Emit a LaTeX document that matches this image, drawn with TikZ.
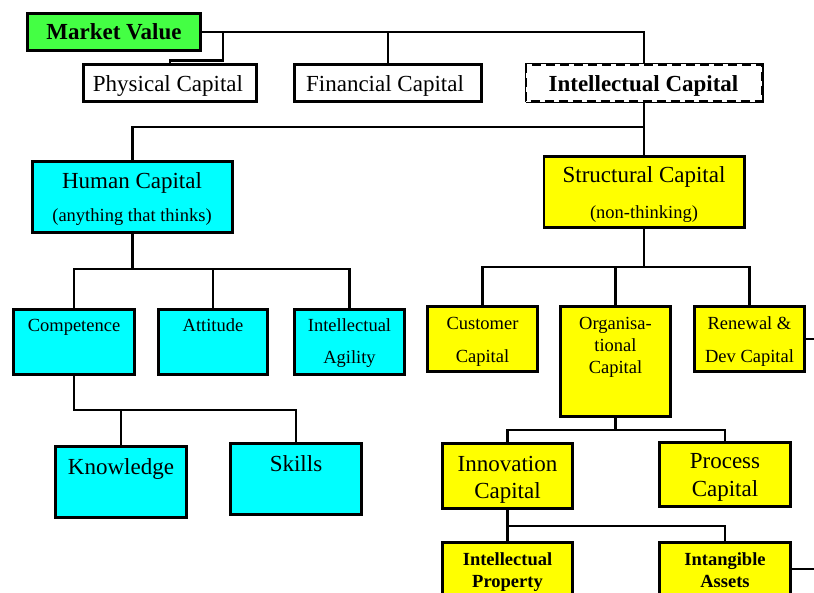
\documentclass[tikz,border=0pt]{standalone}
\usepackage{fontspec}
\setmainfont{Liberation Serif}
\newcommand\fsBig{\fontsize{23}{27}\selectfont}
\newcommand\fsSmall{\fontsize{18.5}{22}\selectfont}
\definecolor{mvgreen}{RGB}{68,255,68}
\definecolor{hccyan}{RGB}{0,255,255}
\definecolor{scyellow}{RGB}{255,255,0}
\tikzset{
  box/.style={draw=black, line width=2.8pt, rectangle, inner sep=0pt, outer sep=0pt},
  dbox/.style={box, dash pattern=on 9pt off 5pt},
  lbl/.style={anchor=base, inner sep=0pt, outer sep=0pt, text=black},
  link/.style={line width=2.6pt, line join=miter},
}
% box helper: centre, outer width, outer height
\newcommand\capbox[6]{\node[#1, fill=#2, minimum width=#4pt-2.8pt, minimum height=#5pt-2.8pt] (#3) at (#6) {};}
\begin{document}
\begin{tikzpicture}[x=1pt, y=-1pt]
\clip (0,0) rectangle (814,593);
\fill[white] (0,0) rectangle (814,593);

% ---- connectors (drawn first, boxes sit on top) ----
\coordinate (mvtap) at (223,32);
\coordinate (mvbend) at (223,60.5);
\coordinate (icbus) at (0,127);
\coordinate (hbus) at (0,269);
\coordinate (cbus) at (0,410);
\coordinate (sbus) at (0,267);
\coordinate (obus) at (0,430);
\coordinate (ibus) at (0,526);
\coordinate (edge) at (830,0);

% ---- boxes ----
\capbox{box}{mvgreen}{mv}{176}{40}{114,32}
\capbox{box}{white}{pc}{176}{40}{170,83}
\capbox{box}{white}{fc}{190}{40}{388,83}
\capbox{dbox}{white}{ic}{239}{40}{644,83}
\capbox{box}{hccyan}{hc}{203}{74}{132.5,197}
\capbox{box}{scyellow}{sc}{203}{74}{644,192}
\capbox{box}{hccyan}{comp}{124}{68}{74,342}
\capbox{box}{hccyan}{att}{112}{68}{213,342}
\capbox{box}{hccyan}{iag}{113}{68}{349.5,342}
\capbox{box}{hccyan}{know}{134}{74}{121,482}
\capbox{box}{hccyan}{skl}{134}{74}{296,479}
\capbox{box}{scyellow}{cust}{113}{68}{482.5,339}
\capbox{box}{scyellow}{org}{113}{113}{615.5,361.5}
\capbox{box}{scyellow}{ren}{113}{68}{749.5,339}
\capbox{box}{scyellow}{inn}{133}{68}{507.5,476}
\capbox{box}{scyellow}{proc}{134}{67}{725,474.5}
\capbox{box}{scyellow}{ip}{133}{56}{507.5,569}
\capbox{box}{scyellow}{intg}{134}{56}{725,569}

% Market value to its three parts
\draw[link] (mv.east) -| (ic.north);
\draw[link] (fc.north) -- (fc.north |- mv.east);
\draw[link] (mvtap) -- (mvbend) -| (pc.north);
% Intellectual capital split
\draw[link] (ic.south) -- (sc.north);
\draw[link] (ic.south |- icbus) -| (hc.north);
% Human capital
\draw[link] (hc.south) -- (hc.south |- hbus);
\draw[link] (comp.north) |- (iag.north |- hbus) -- (iag.north);
\draw[link] (att.north) -- (att.north |- hbus);
% Competence
\draw[link] (comp.south) |- (skl.north |- cbus) -- (skl.north);
\draw[link] (know.north) -- (know.north |- cbus);
% Structural capital
\draw[link] (sc.south) -- (sc.south |- sbus);
\draw[link] (cust.north) |- (ren.north |- sbus) -- (ren.north);
\draw[link] (org.north) -- (org.north |- sbus);
\draw[link] (ren.east) -- (ren.east -| edge);
% Organisational capital
\draw[link] (org.south) -- (org.south |- obus);
\draw[link] (inn.north) |- (proc.north |- obus) -- (proc.north);
% Innovation capital
\draw[link] (inn.south) |- (intg.north |- ibus) -- (intg.north);
\draw[link] (ip.north) -- (ip.north |- ibus);
\draw[link] (intg.east) -- (intg.east -| edge);

% redraw boxes over connector ends
\foreach \n in {mv,pc,fc,hc,sc,comp,att,iag,know,skl,cust,org,ren,inn,proc,ip,intg}{
  \draw[line width=2.8pt] (\n.north west) rectangle (\n.south east);
}
\draw[line width=2.8pt, dash pattern=on 9pt off 5pt, fill=white] (ic.north west) rectangle (ic.south east);

% ---- labels ----
\node[lbl, font=\fsBig\bfseries] (t-mv) at (114,40) {Market Value};
\node[lbl, font=\fsBig] (t-pc) at (168,92) {Physical Capital};
\node[lbl, font=\fsBig] (t-fc) at (385,92) {Financial Capital};
\node[lbl, font=\fsBig\bfseries] (t-ic) at (643.5,92) {Intellectual Capital};

\node[lbl, font=\fsBig] (t-hc1) at (132,189) {Human Capital};
\node[lbl, font=\fsSmall] (t-hc2) at (132,222) {(anything that thinks)};
\node[lbl, font=\fsBig] (t-sc1) at (644,183) {Structural Capital};
\node[lbl, font=\fsSmall] (t-sc2) at (644,219) {(non-thinking)};

\node[lbl, font=\fsSmall] (t-comp) at (74,332) {Competence};
\node[lbl, font=\fsSmall] (t-att) at (213,332) {Attitude};
\node[lbl, font=\fsSmall] (t-iag1) at (349.5,332) {Intellectual};
\node[lbl, font=\fsSmall] (t-iag2) at (349.5,364) {Agility};

\node[lbl, font=\fsBig] (t-know) at (121,474) {Knowledge};
\node[lbl, font=\fsBig] (t-skl) at (296,471) {Skills};

\node[lbl, font=\fsSmall] (t-cust1) at (482.5,330) {Customer};
\node[lbl, font=\fsSmall] (t-cust2) at (482.5,363) {Capital};
\node[lbl, font=\fsSmall] (t-org1) at (615.5,330) {Organisa-};
\node[lbl, font=\fsSmall] (t-org2) at (615.5,352) {tional};
\node[lbl, font=\fsSmall] (t-org3) at (615.5,374) {Capital};
\node[lbl, font=\fsSmall] (t-ren1) at (749.5,330) {Renewal \&};
\node[lbl, font=\fsSmall] (t-ren2) at (749.5,363) {Dev Capital};

\node[lbl, font=\fsBig] (t-inn1) at (507.5,471) {Innovation};
\node[lbl, font=\fsBig] (t-inn2) at (507.5,498) {Capital};
\node[lbl, font=\fsBig] (t-proc1) at (725,468) {Process};
\node[lbl, font=\fsBig] (t-proc2) at (725,496) {Capital};

\node[lbl, font=\fsSmall\bfseries] (t-ip1) at (507.5,565) {Intellectual};
\node[lbl, font=\fsSmall\bfseries] (t-ip2) at (507.5,587) {Property};
\node[lbl, font=\fsSmall\bfseries] (t-intg1) at (725,565) {Intangible};
\node[lbl, font=\fsSmall\bfseries] (t-intg2) at (725,587) {Assets};
\end{tikzpicture}
\end{document}
